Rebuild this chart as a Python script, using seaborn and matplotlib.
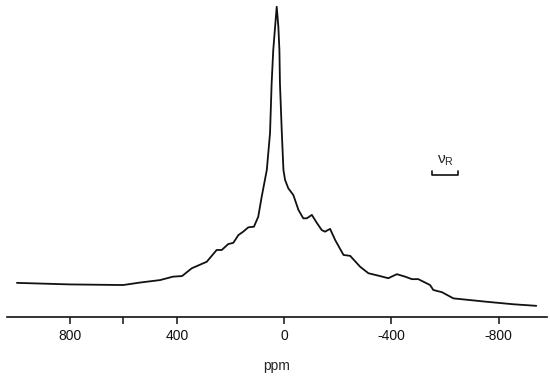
import matplotlib
matplotlib.use('Agg')
import matplotlib.pyplot as plt
import pandas as pd
import seaborn as sns

sns.set_style('white')
plt.rcParams['font.family'] = ['Liberation Sans', 'DejaVu Sans']

# spectrum (ppm, intensity with peak = 100)
ppm = [997, 799, 601, 538, 463, 415, 381, 345, 289, 252, 233, 209, 190, 171,
       153, 134, 113, 97, 84, 65, 53, 47, 41, 34, 28, 22, 18, 16, 9, 3, -3,
       -15, -34, -53, -71, -84, -103, -121, -140, -152, -171, -190, -221,
       -246, -283, -314, -357, -388, -420, -451, -476, -500, -544, -556,
       -588, -631, -756, -855, -940]
intensity = [11.0, 10.5, 10.3, 11.1, 11.9, 13.0, 13.2, 15.7, 17.8, 21.6, 21.6,
             23.5, 23.9, 26.4, 27.5, 28.9, 29.1, 32.3, 38.8, 47.4, 59.3, 75.3,
             86.0, 93.6, 100.0, 93.6, 86.0, 75.3, 59.3, 47.4, 44.2, 41.5, 39.3,
             34.5, 31.8, 31.8, 32.9, 30.4, 28.0, 27.5, 28.4, 24.8, 20.0, 19.7,
             16.2, 14.1, 13.2, 12.5, 13.8, 13.0, 12.2, 12.2, 10.3, 8.7, 8.0,
             6.0, 4.9, 4.1, 3.6]
tick_pos = [800, 600, 400, 0, -400, -800]
tick_labels = ['800', '', '400', '0', '-400', '-800']
# spinning rate marker
nu_r = [-551, -648]

df = pd.DataFrame({'ppm': ppm, 'intensity': intensity})

fig = plt.figure(figsize=(5.5, 3.77), dpi=100)
ax = fig.add_axes([7 / 550, 60 / 377, 540 / 550, 312 / 377])
sns.lineplot(data=df, x='ppm', y='intensity', color='#111111', lw=1.3, ax=ax)

# nu_R bracket
ax.plot([nu_r[0], nu_r[0], nu_r[1], nu_r[1]], [47.2, 45.8, 45.8, 47.2],
        color='#111111', lw=1.2)
ax.text(sum(nu_r) / 2, 48.0, 'ν$_\\mathregular{R}$', ha='center', va='bottom',
        fontsize=11)

ax.set_xlim(1034, -980)
ax.set_ylim(0, 100.55)
ax.set_xticks(tick_pos)
ax.set_xticklabels(tick_labels)
ax.xaxis.get_major_ticks()[-1].tick1line.set_visible(False)
ax.set_yticks([])
ax.tick_params(axis='x', direction='out', length=5, width=1.1, pad=4,
               labelsize=10, bottom=True, colors='#111111')
ax.set_xlabel('ppm', fontsize=10, labelpad=11)
ax.set_ylabel('')
for s in ['left', 'right', 'top']:
    ax.spines[s].set_visible(False)
ax.spines['bottom'].set_linewidth(1.2)
ax.spines['bottom'].set_color('#111111')

fig.savefig('out.png', dpi=100)
